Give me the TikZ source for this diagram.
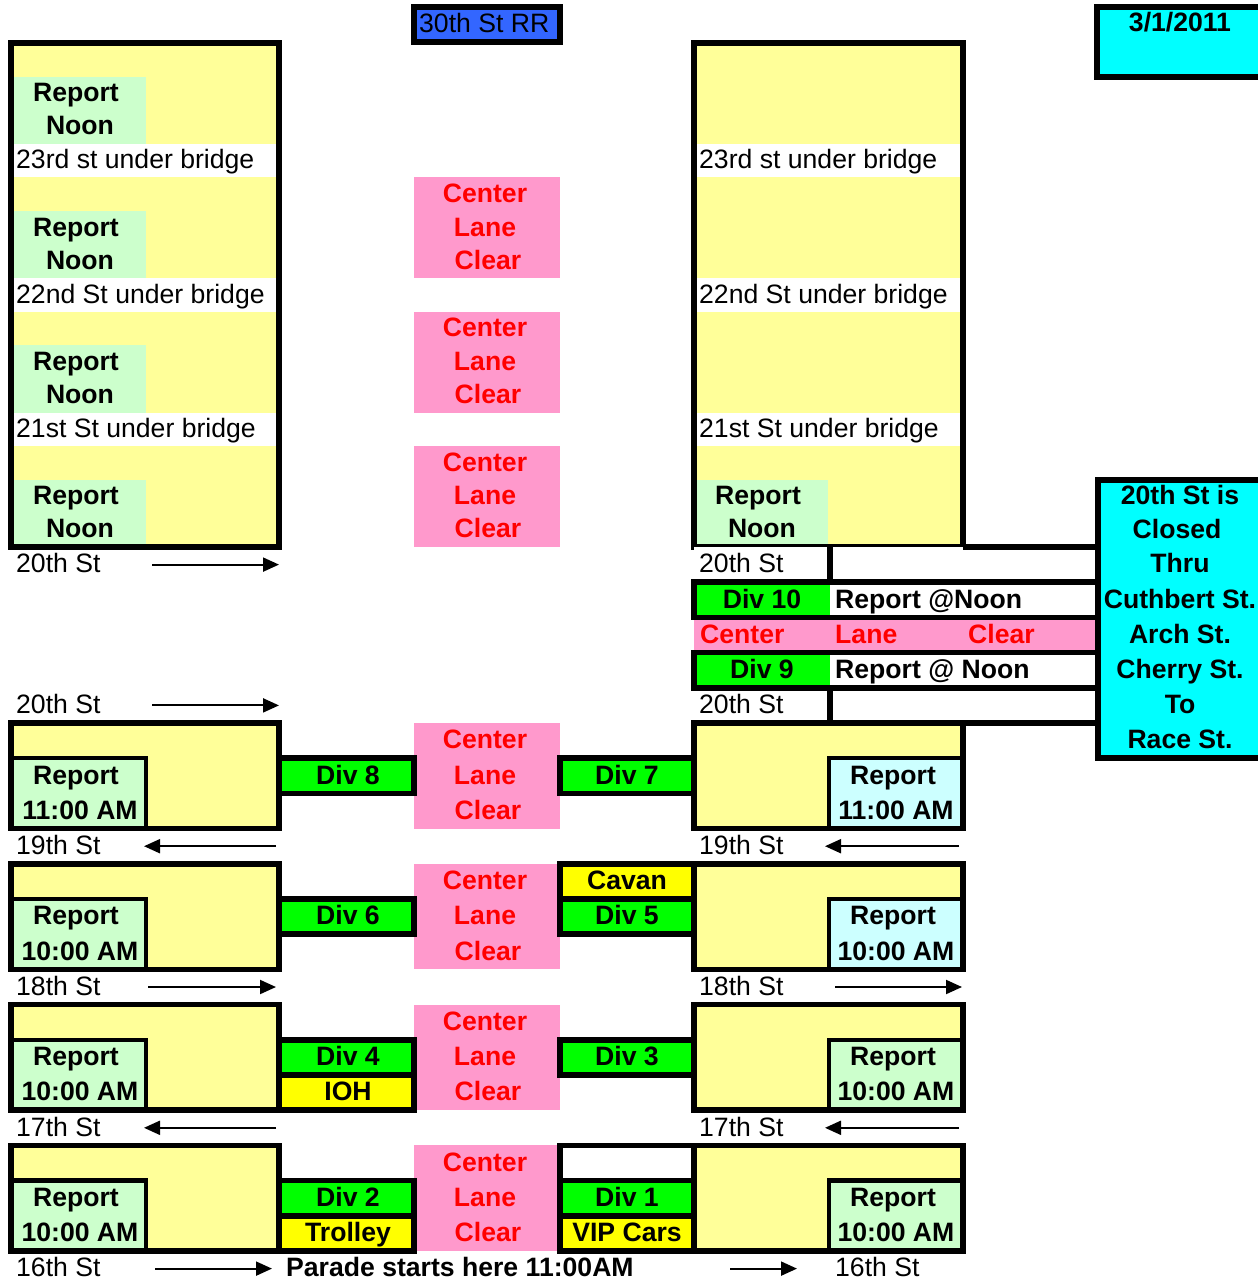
\documentclass[tikz,border=0pt]{standalone}
\usepackage{fontspec}
\setmainfont{Liberation Sans}
\usetikzlibrary{arrows.meta}
\definecolor{cpy}{HTML}{FFFF99}
\definecolor{cpg}{HTML}{CCFFCC}
\definecolor{cpc}{HTML}{CCFFFF}
\definecolor{cgr}{HTML}{00FF00}
\definecolor{cye}{HTML}{FFFF00}
\definecolor{cpk}{HTML}{FF99CC}
\definecolor{cred}{HTML}{FF0000}
\definecolor{ccy}{HTML}{00FFFF}
\definecolor{cbl}{HTML}{3366FF}
\newcommand\myfs{\fontsize{26.6}{30}\selectfont}
\newcommand\myfsb{\fontsize{26.6}{30}\selectfont\bfseries}
\begin{document}
\begin{tikzpicture}[x=1pt,y=-1pt,
  frame/.style={draw=black,line width=5.5pt},
  rframe/.style={draw=black,line width=4.5pt},
  txt/.style={inner sep=0pt,text height=18.5pt,text depth=0pt,font=\myfs},
  btxt/.style={txt,font=\myfsb},
  rtxt/.style={btxt,text=cred},
  arr/.style={line width=2pt,-{Triangle[length=16pt,width=14pt]}},
]
\useasboundingbox (0,0) rectangle (1258,1280);

% ---------- top ----------
\draw[frame,fill=cbl] (414,7) rectangle (560,42);
\node[txt,anchor=west] (rr) at (419,23) {30th St RR};
\draw[frame,fill=ccy] (1097,7) rectangle (1275,77);
\node[btxt] (date) at (1180,22) {3/1/2011};

% ---------- upper blocks ----------
\fill[cpy] (11,43) rectangle (279,547);
\fill[cpy] (694,43) rectangle (963,547);
\foreach \k/\nm in {0/23rd st under bridge,1/22nd St under bridge,2/21st St under bridge}{
  \pgfmathsetmacro\s{43+134.4*\k}
  \fill[white] (11,\s+100.8) rectangle (279,\s+134.4);
  \fill[white] (694,\s+100.8) rectangle (963,\s+134.4);
  \node[txt,anchor=west] (lw\k) at (16,\s+116.6) {\nm};
  \node[txt,anchor=west] (rw\k) at (699,\s+116.6) {\nm};
}
\foreach \k in {0,1,2,3}{
  \pgfmathsetmacro\s{43+134.4*\k}
  \fill[cpg] (11,\s+33.6) rectangle (146,\s+100.8);
  \node[btxt] (lrep\k) at (76,\s+49.4) {Report};
  \node[btxt] (lnoon\k) at (80,\s+82.5) {Noon};
}
\fill[cpg] (694,479.8) rectangle (828,547);
\node[btxt] (rrepU) at (758,495.4) {Report};
\node[btxt] (rnoonU) at (762,528.5) {Noon};
\draw[frame] (11,43) rectangle (279,547);
\draw[frame] (694,43) rectangle (963,547);

% upper pink boxes
\foreach \j in {1,2,3}{
  \pgfmathsetmacro\t{43+134.4*\j}
  \fill[cpk] (414,\t) rectangle (560,\t+100.8);
  \node[rtxt] (uc\j) at (485,\t+15.8) {Center};
  \node[rtxt] (ul\j) at (485,\t+49.4) {Lane};
  \node[rtxt] (ucl\j) at (488,\t+82.5) {Clear};
}

% ---------- 20th St section (right) ----------
\fill[white] (694,547) rectangle (1098,582.2);
\fill[cpk] (694,617.4) rectangle (1098,652.6);
\fill[cgr] (694,582.2) rectangle (830,617.4);
\fill[white] (830,582.2) rectangle (1098,617.4);
\fill[cgr] (694,652.6) rectangle (830,687.8);
\fill[white] (830,652.6) rectangle (1098,687.8);
\draw[frame] (694,582.2) rectangle (1098,617.4);
\draw[frame] (694,652.6) rectangle (1098,687.8);
\draw[frame] (963,547) -- (1098,547);
\draw[frame] (963,723) -- (1098,723);
\draw[frame] (830,547) -- (830,582.2);
\draw[frame] (830,687.8) -- (830,723);
\node[txt,anchor=west] (r20a) at (699,563.6) {20th St};
\node[btxt] (div10) at (762,598.8) {Div 10};
\node[btxt,anchor=west] (rep10) at (835,598.8) {Report @Noon};
\node[rtxt,anchor=west] (mc) at (700,634) {Center};
\node[rtxt,anchor=west] (ml) at (835,634) {Lane};
\node[rtxt,anchor=west] (mcl) at (968,634) {Clear};
\node[btxt] (div9) at (762,669.2) {Div 9};
\node[btxt,anchor=west] (rep9) at (835,669.2) {Report @ Noon};
\node[txt,anchor=west] (r20b) at (699,704.4) {20th St};

\draw[frame,fill=ccy] (1098,479.8) rectangle (1275,758.2);
\node[btxt] (cy1) at (1180,495.6) {20th St is};
\node[btxt] (cy2) at (1177,529.2) {Closed};
\node[btxt] (cy3) at (1180,563.6) {Thru};
\node[btxt] (cy4) at (1180,598.8) {Cuthbert St.};
\node[btxt] (cy5) at (1180,634) {Arch St.};
\node[btxt] (cy6) at (1180,669.2) {Cherry St.};
\node[btxt] (cy7) at (1180,704.4) {To};
\node[btxt] (cy8) at (1180,739.6) {Race St.};

% left 20th St labels
\node[txt,anchor=west] (l20a) at (16,563.6) {20th St};
\node[txt,anchor=west] (l20b) at (16,704.4) {20th St};
\coordinate (a1s) at (152,564.6); \coordinate (a1e) at (279,564.6);
\coordinate (a2s) at (152,705.4); \coordinate (a2e) at (279,705.4);
\draw[arr] (a1s) -- (a1e);
\draw[arr] (a2s) -- (a2e);

% ---------- lower pink boxes ----------
\foreach \m in {0,1,2,3}{
  \pgfmathsetmacro\t{723+140.8*\m}
  \fill[cpk] (414,\t) rectangle (560,\t+105.6);
  \node[rtxt] (lc\m) at (485,\t+16.6) {Center};
  \node[rtxt] (ll\m) at (485,\t+51.8) {Lane};
  \node[rtxt] (lcl\m) at (488,\t+87) {Clear};
}

% ---------- div cells ----------
\draw[frame,fill=cgr] (279,758.2) rectangle (414,793.4);
\node[btxt] (d8) at (348,774.8) {Div 8};
\draw[frame,fill=cgr] (560,758.2) rectangle (694,793.4);
\node[btxt] (d7) at (627,774.8) {Div 7};

\draw[frame,fill=cgr] (279,899) rectangle (414,934.2);
\node[btxt] (d6) at (348,915.6) {Div 6};
\draw[frame,fill=cye] (560,863.8) rectangle (694,899);
\node[btxt] (cav) at (627,880.4) {Cavan};
\draw[frame,fill=cgr] (560,899) rectangle (694,934.2);
\node[btxt] (d5) at (627,915.6) {Div 5};

\draw[frame,fill=cgr] (279,1039.8) rectangle (414,1075);
\node[btxt] (d4) at (348,1056.4) {Div 4};
\draw[frame,fill=cye] (279,1075) rectangle (414,1110.2);
\node[btxt] (ioh) at (348,1091.6) {IOH};
\draw[frame,fill=cgr] (560,1039.8) rectangle (694,1075);
\node[btxt] (d3) at (627,1056.4) {Div 3};

\draw[frame,fill=cgr] (279,1180.6) rectangle (414,1215.8);
\node[btxt] (d2) at (348,1197.2) {Div 2};
\draw[frame,fill=cye] (279,1215.8) rectangle (414,1251);
\node[btxt] (trol) at (348,1232.4) {Trolley};
\draw[frame,fill=white] (560,1145.4) rectangle (694,1180.6);
\draw[frame,fill=cgr] (560,1180.6) rectangle (694,1215.8);
\node[btxt] (d1) at (627,1197.2) {Div 1};
\draw[frame,fill=cye] (560,1215.8) rectangle (694,1251);
\node[btxt] (vip) at (627,1232.4) {VIP Cars};

% ---------- lower blocks ----------
\foreach \m/\lt/\rc/\rt in {0/11:00 AM/cpc/11:00 AM,1/10:00 AM/cpc/10:00 AM,2/10:00 AM/cpg/10:00 AM,3/10:00 AM/cpg/10:00 AM}{
  \pgfmathsetmacro\t{723+140.8*\m}
  \fill[cpy] (11,\t) rectangle (279,\t+105.6);
  \fill[cpy] (694,\t) rectangle (963,\t+105.6);
  \draw[rframe,fill=cpg] (11,\t+35.2) rectangle (146,\t+105.6);
  \draw[rframe,fill=\rc] (829,\t+35.2) rectangle (963,\t+105.6);
  \draw[frame] (11,\t) rectangle (279,\t+105.6);
  \draw[frame] (694,\t) rectangle (963,\t+105.6);
  \node[btxt] (lr\m) at (76,\t+51.8) {Report};
  \node[btxt] (lt\m) at (80,\t+87) {\lt};
  \node[btxt] (rr\m) at (893,\t+51.8) {Report};
  \node[btxt] (rt\m) at (896,\t+87) {\rt};
}

% ---------- street labels + arrows ----------
\node[txt,anchor=west] (l19) at (16,845.2) {19th St};
\node[txt,anchor=west] (r19) at (699,845.2) {19th St};
\node[txt,anchor=west] (l18) at (16,986) {18th St};
\node[txt,anchor=west] (r18) at (699,986) {18th St};
\node[txt,anchor=west] (l17) at (16,1126.8) {17th St};
\node[txt,anchor=west] (r17) at (699,1126.8) {17th St};
\node[txt,anchor=west] (l16) at (16,1267.6) {16th St};
\node[btxt,anchor=west] (parade) at (286,1267.6) {Parade starts here 11:00AM};
\node[txt,anchor=west] (r16) at (835,1267.6) {16th St};

\coordinate (b1s) at (276,846.2); \coordinate (b1e) at (144,846.2);
\coordinate (b2s) at (959,846.2); \coordinate (b2e) at (825,846.2);
\coordinate (b3s) at (148,987); \coordinate (b3e) at (276,987);
\coordinate (b4s) at (835,987); \coordinate (b4e) at (962,987);
\coordinate (b5s) at (276,1127.8); \coordinate (b5e) at (144,1127.8);
\coordinate (b6s) at (959,1127.8); \coordinate (b6e) at (825,1127.8);
\coordinate (b7s) at (155,1268.6); \coordinate (b7e) at (272,1268.6);
\coordinate (b8s) at (730,1268.6); \coordinate (b8e) at (797,1268.6);
\foreach \i in {1,...,8}{\draw[arr] (b\i s) -- (b\i e);}
\end{tikzpicture}
\end{document}
